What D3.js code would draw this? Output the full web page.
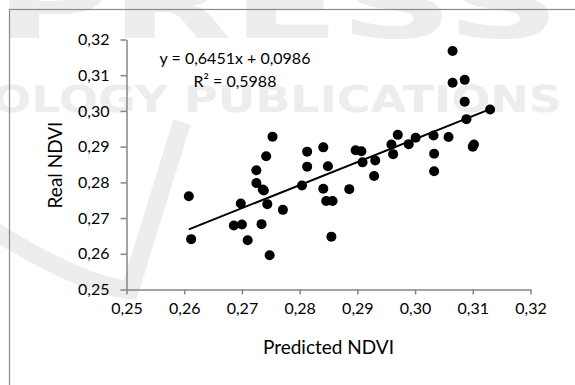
<!DOCTYPE html>
<html><head><meta charset="utf-8">
<script src="https://cdn.jsdelivr.net/npm/d3@7"></script>
<style>html,body{margin:0;padding:0;background:#fff;}svg{display:block;}</style>
</head><body><div id="chart"></div>
<script>
const predicted = [0.2608,0.2612,0.2686,0.2700,0.2698,0.2710,0.2725,0.2725,0.2736,0.2738,0.2734,0.2742,0.2744,0.2748,0.2753,0.2771,0.2804,0.2813,0.2813,0.2841,0.2841,0.2849,0.2846,0.2857,0.2855,0.2886,0.2897,0.2907,0.2909,0.2931,0.2929,0.2959,0.2962,0.2970,0.2989,0.3001,0.3032,0.3033,0.3033,0.3058,0.3065,0.3065,0.3086,0.3086,0.3089,0.3100,0.3102,0.3130];
const real = [0.2761,0.2641,0.2679,0.2682,0.2741,0.2638,0.2834,0.2798,0.2780,0.2777,0.2683,0.2873,0.2739,0.2596,0.2928,0.2723,0.2791,0.2886,0.2844,0.2898,0.2782,0.2845,0.2748,0.2748,0.2648,0.2781,0.2890,0.2887,0.2856,0.2861,0.2818,0.2906,0.2879,0.2933,0.2907,0.2925,0.2931,0.2880,0.2831,0.2927,0.3168,0.3079,0.3087,0.3026,0.2977,0.2900,0.2906,0.3004];
const xTicks = [0.25,0.26,0.27,0.28,0.29,0.30,0.31,0.32];
const yTicks = [0.25,0.26,0.27,0.28,0.29,0.30,0.31,0.32];
const slope = 0.6451, intercept = 0.0986;
const eqLabel = "y = 0,6451x + 0,0986";
const r2Label = "R² = 0,5988";
const xTitle = "Predicted NDVI", yTitle = "Real NDVI";

const W = 575, H = 385;
const svg = d3.select("#chart").append("svg").attr("width", W).attr("height", H);
const font = "Lato, 'Open Sans', sans-serif";

// watermark
const wm = svg.append("g").attr("fill", "#ededed");
wm.append("text").attr("x", -5).attr("y", 38).attr("font-family", "'DejaVu Sans', sans-serif")
  .attr("font-weight", "bold").attr("font-size", 95).attr("textLength", 565).attr("lengthAdjust", "spacingAndGlyphs").text("PRESS");
wm.append("text").attr("x", -8).attr("y", 112).attr("font-family", "'DejaVu Sans', sans-serif")
  .attr("font-weight", "bold").attr("font-size", 37).attr("textLength", 570).attr("lengthAdjust", "spacingAndGlyphs").text("OLOGY PUBLICATIONS");
svg.append("path").attr("d", "M -10,228 Q 80,285 130,290 L 182,122")
  .attr("fill", "none").attr("stroke", "#ededed").attr("stroke-width", 18);

// border
svg.append("rect").attr("x", 9.5).attr("y", 9.5).attr("width", 600).attr("height", 400)
  .attr("fill", "none").attr("stroke", "#8a8a8a").attr("stroke-width", 1.2);

const x = d3.scaleLinear().domain([0.25, 0.32]).range([126.5, 530.5]);
const y = d3.scaleLinear().domain([0.25, 0.32]).range([289.5, 39.5]);
const fmt = d => d3.format(".2f")(d).replace(".", ",");

const xAxis = svg.append("g").attr("transform", `translate(0,${y(0.25)})`)
  .call(d3.axisBottom(x).tickValues(xTicks).tickFormat(fmt).tickSize(5).tickSizeOuter(0).tickPadding(8));
const yAxis = svg.append("g").attr("transform", `translate(${x(0.25)},0)`)
  .call(d3.axisLeft(y).tickValues(yTicks).tickFormat(fmt).tickSize(6).tickSizeOuter(0).tickPadding(11));
[xAxis, yAxis].forEach(a => {
  a.select(".domain").attr("stroke", "#868686").attr("stroke-width", 1.5);
  a.selectAll(".tick line").attr("stroke", "#868686").attr("stroke-width", 1.5);
  a.selectAll(".tick text").attr("font-family", font).attr("font-size", 16).attr("fill", "#000");
});

// trendline
const xr = d3.extent(predicted);
svg.append("line").attr("x1", x(xr[0])).attr("y1", y(slope*xr[0]+intercept))
  .attr("x2", x(xr[1])).attr("y2", y(slope*xr[1]+intercept))
  .attr("stroke", "#000").attr("stroke-width", 2);

// points
svg.append("g").selectAll("circle").data(predicted.map((p,i)=>[p, real[i]])).join("circle")
  .attr("cx", d => x(d[0])).attr("cy", d => y(d[1])).attr("r", 5).attr("fill", "#000");

// labels
svg.append("text").attr("x", 235).attr("y", 64).attr("text-anchor", "middle")
  .attr("font-family", font).attr("font-size", 16).text(eqLabel);
svg.append("text").attr("x", 235).attr("y", 87).attr("text-anchor", "middle")
  .attr("font-family", font).attr("font-size", 16).text(r2Label);
svg.append("text").attr("x", 328.5).attr("y", 354).attr("text-anchor", "middle")
  .attr("font-family", font).attr("font-size", 19).text(xTitle);
svg.append("text").attr("transform", "translate(62,165) rotate(-90)").attr("text-anchor", "middle")
  .attr("font-family", font).attr("font-size", 19).text(yTitle);
</script></body></html>
